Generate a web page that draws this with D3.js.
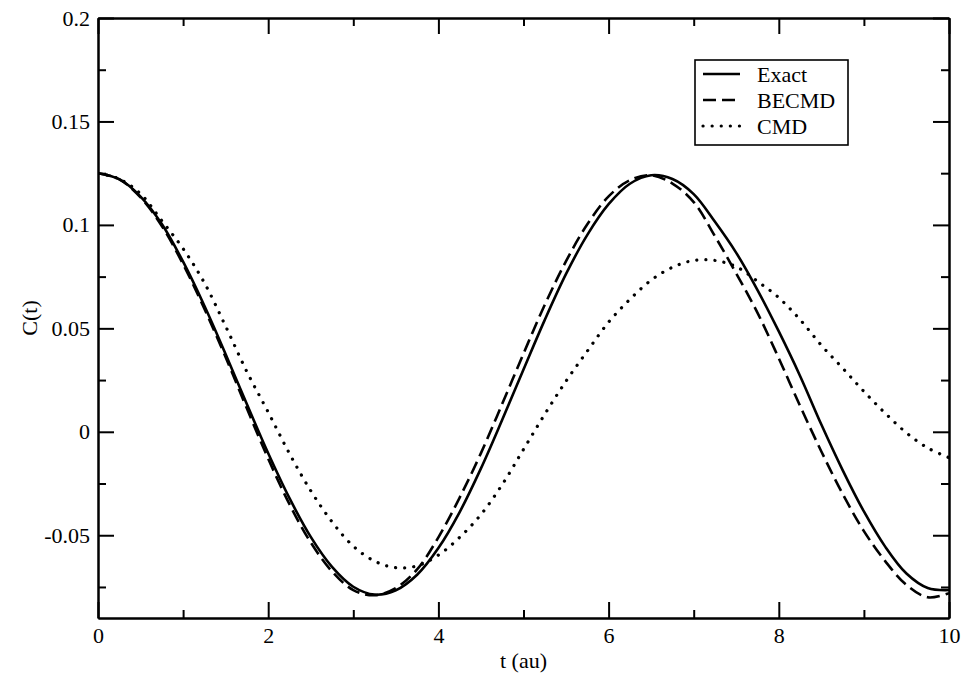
<!DOCTYPE html>
<html>
<head>
<meta charset="utf-8">
<script src="https://cdn.jsdelivr.net/npm/d3@7"></script>
<style>
  html, body { margin: 0; padding: 0; background: #fff; }
  svg { display: block; }
  text { font-family: "Liberation Serif", "Times New Roman", serif; fill: #000; }
</style>
</head>
<body>
<svg id="chart" width="966" height="676"></svg>
<script>
// ---- data ----
const tValues = [0,0.25,0.5,0.75,1,1.25,1.5,1.75,2,2.25,2.5,2.75,3,3.25,3.5,3.75,4,4.25,4.5,4.75,5,5.25,5.5,5.75,6,6.25,6.5,6.75,7,7.25,7.5,7.75,8,8.25,8.5,8.75,9,9.25,9.5,9.75,10];
const exact = [0.125,0.1221,0.1137,0.1004,0.0822,0.0609,0.0375,0.0133,-0.0104,-0.0321,-0.0508,-0.0653,-0.0749,-0.0787,-0.0766,-0.0691,-0.0562,-0.0388,-0.0177,0.0058,0.0301,0.0541,0.0763,0.0952,0.1100,0.1199,0.1240,0.1222,0.1149,0.1015,0.0865,0.0685,0.0485,0.0270,0.0035,-0.0185,-0.0385,-0.0555,-0.0685,-0.0755,-0.0765];
const becmd = [0.125,0.1220,0.1133,0.0995,0.0810,0.0595,0.0360,0.0112,-0.0130,-0.0350,-0.0535,-0.0675,-0.0765,-0.0790,-0.0755,-0.0665,-0.0510,-0.0318,-0.0103,0.0135,0.0378,0.0614,0.0825,0.1003,0.1138,0.1216,0.1240,0.1200,0.1110,0.0945,0.0765,0.0575,0.0355,0.0125,-0.0095,-0.0300,-0.0480,-0.0625,-0.0740,-0.0800,-0.0780];
const cmd = [0.125,0.1222,0.1150,0.1020,0.0885,0.0720,0.0510,0.0290,0.0095,-0.0105,-0.0285,-0.0435,-0.0553,-0.0625,-0.0657,-0.0648,-0.0596,-0.0510,-0.0400,-0.0255,-0.0085,0.0085,0.0245,0.0390,0.0530,0.0640,0.0733,0.0795,0.0828,0.0828,0.0798,0.0727,0.0648,0.0542,0.0418,0.0308,0.0195,0.0090,-0.0005,-0.0078,-0.0125];
const seriesNames = ["Exact", "BECMD", "CMD"];
const xMajorTicks = [0, 2, 4, 6, 8, 10];
const xTickLabels = ["0", "2", "4", "6", "8", "10"];
const xMinorTicks = [1, 3, 5, 7, 9];
const yMajorTicks = [-0.05, 0, 0.05, 0.1, 0.15, 0.2];
const yTickLabels = ["-0.05", "0", "0.05", "0.1", "0.15", "0.2"];
const yMinorTicks = [-0.075, -0.025, 0.025, 0.075, 0.125, 0.175];
const xTitle = "t (au)";
const yTitle = "C(t)";

// ---- layout ----
const L = 98, R = 949, T = 18, B = 618;
const svg = d3.select("#chart");
const x = d3.scaleLinear().domain([0, 10]).range([L, R]);
const y = d3.scaleLinear().domain([-0.09, 0.2]).range([B, T]);
const FS = 22;

svg.append("clipPath").attr("id", "clip").append("rect")
  .attr("x", L).attr("y", T).attr("width", R - L).attr("height", B - T);

const styles = [
  { data: exact, dash: null, width: 2.6, cap: "butt" },
  { data: becmd, dash: "13 6", width: 2.6, cap: "butt" },
  { data: cmd, dash: "0.1 9", width: 3.2, cap: "round" }
];
const line = d3.line().x((d, i) => x(tValues[i])).y(d => y(d)).curve(d3.curveCatmullRom.alpha(0.5));
const g = svg.append("g").attr("clip-path", "url(#clip)");
styles.forEach(s => {
  g.append("path").datum(s.data)
    .attr("d", line)
    .attr("fill", "none")
    .attr("stroke", "#000")
    .attr("stroke-width", s.width)
    .attr("stroke-linecap", s.cap)
    .attr("stroke-dasharray", s.dash);
});

function styleAxis(sel) {
  sel.selectAll("path.domain").attr("stroke", "#000").attr("stroke-width", 2);
  sel.selectAll(".tick line").attr("stroke", "#000").attr("stroke-width", 2);
  sel.selectAll(".tick text").style("font-family", "Liberation Serif, serif").style("font-size", FS + "px").attr("fill", "#000");
}
svg.append("g").attr("transform", `translate(0,${B})`)
  .call(d3.axisBottom(x).tickValues(xMajorTicks).tickFormat((d, i) => xTickLabels[i]).tickSize(-16).tickSizeOuter(0).tickPadding(9))
  .call(styleAxis);
svg.append("g").attr("transform", `translate(0,${B})`)
  .call(d3.axisBottom(x).tickValues(xMinorTicks).tickFormat("").tickSize(-8).tickSizeOuter(0))
  .call(styleAxis);
svg.append("g").attr("transform", `translate(0,${T})`)
  .call(d3.axisTop(x).tickValues(xMajorTicks).tickFormat("").tickSize(-16).tickSizeOuter(0))
  .call(styleAxis);
svg.append("g").attr("transform", `translate(0,${T})`)
  .call(d3.axisTop(x).tickValues(xMinorTicks).tickFormat("").tickSize(-8).tickSizeOuter(0))
  .call(styleAxis);
svg.append("g").attr("transform", `translate(${L},0)`)
  .call(d3.axisLeft(y).tickValues(yMajorTicks).tickFormat((d, i) => yTickLabels[i]).tickSize(-16).tickSizeOuter(0).tickPadding(8))
  .call(styleAxis);
svg.append("g").attr("transform", `translate(${L},0)`)
  .call(d3.axisLeft(y).tickValues(yMinorTicks).tickFormat("").tickSize(-8).tickSizeOuter(0))
  .call(styleAxis);
svg.append("g").attr("transform", `translate(${R},0)`)
  .call(d3.axisRight(y).tickValues(yMajorTicks).tickFormat("").tickSize(-16).tickSizeOuter(0))
  .call(styleAxis);
svg.append("g").attr("transform", `translate(${R},0)`)
  .call(d3.axisRight(y).tickValues(yMinorTicks).tickFormat("").tickSize(-8).tickSizeOuter(0))
  .call(styleAxis);

svg.append("text").attr("x", (L + R) / 2).attr("y", 668)
  .attr("text-anchor", "middle").style("font-size", FS + "px").text(xTitle);
svg.append("text").attr("transform", `translate(37,${(T + B) / 2}) rotate(-90)`)
  .attr("text-anchor", "middle").style("font-size", FS + "px").text(yTitle);

const lg = svg.append("g");
lg.append("rect").attr("x", 695).attr("y", 60).attr("width", 153).attr("height", 85)
  .attr("fill", "#fff").attr("stroke", "#000").attr("stroke-width", 1.6);
seriesNames.forEach((name, i) => {
  const cy = 74 + i * 26;
  const s = styles[i];
  lg.append("line").attr("x1", 703).attr("x2", 740).attr("y1", cy).attr("y2", cy)
    .attr("stroke", "#000").attr("stroke-width", s.width)
    .attr("stroke-linecap", s.cap).attr("stroke-dasharray", s.dash);
  lg.append("text").attr("x", 757).attr("y", cy).attr("dy", "0.35em")
    .style("font-size", FS + "px").text(name);
});
</script>
</body>
</html>
